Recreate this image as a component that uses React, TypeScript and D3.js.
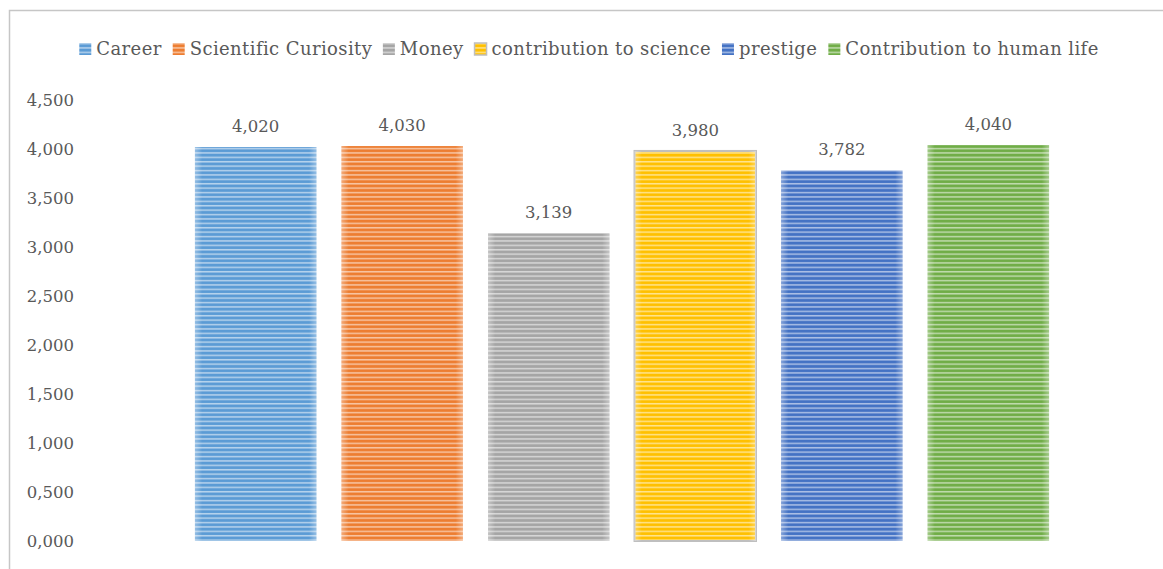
import * as d3 from "d3";

const series = [
  "Career",
  "Scientific Curiosity",
  "Money",
  "contribution to science",
  "prestige",
  "Contribution to human life",
];
const values = [4.02, 4.03, 3.139, 3.98, 3.782, 4.04];
const colors = ["#5B9BD5", "#ED7D31", "#A5A5A5", "#FFC000", "#4472C4", "#70AD47"];
const yTickValues = [0, 0.5, 1, 1.5, 2, 2.5, 3, 3.5, 4, 4.5];

const width = 1163;
const height = 569;
const plot = { left: 84, right: 1160, top: 100, bottom: 541 };
const font = "'DejaVu Serif', serif";
const fontSize = 16.5;
const legendSize = 18;
const legendSpacing = 0.4;
const textColor = "#595959";

const locale = d3.formatLocale({
  decimal: ",",
  thousands: ".",
  grouping: [3],
  currency: ["", ""],
});
const fmt = locale.format(".3f");

const measure = (() => {
  const ctx = document.createElement("canvas").getContext("2d");
  return (s: string, size: number) => {
    if (!ctx) return s.length * size * 0.55;
    ctx.font = `${size}px ${font}`;
    return ctx.measureText(s).width;
  };
})();

export default function App() {
  const x = d3
    .scaleBand<string>()
    .domain(series)
    .range([plot.left, plot.right])
    .paddingInner(0.171)
    .paddingOuter(0.757);
  const y = d3.scaleLinear().domain([0, 4.5]).range([plot.bottom, plot.top]);

  // legend layout
  const marker = 12;
  const markerGap = 5;
  const itemGap = 11;
  const widths = series.map(
    (s) => marker + markerGap + measure(s, legendSize) + s.length * legendSpacing
  );
  const total = d3.sum(widths) + itemGap * (series.length - 1);
  let cursor = 589 - total / 2;
  const legendItems = series.map((s, i) => {
    const item = { name: s, x: cursor, color: colors[i], i };
    cursor += widths[i] + itemGap;
    return item;
  });
  const legendY = 49;

  return (
    <>
      <style>{`body{margin:0;overflow:hidden}`}</style>
      <svg width={width} height={height} style={{ display: "block" }}>
        <defs>
          {colors.map((c, i) => (
            <pattern
              key={i}
              id={`stripe${i}`}
              patternUnits="userSpaceOnUse"
              width={8}
              height={4.4}
            >
              <rect width={8} height={4.4} fill={c} />
              <rect y={2.6} width={8} height={1.5} fill="#fff" opacity={0.55} />
            </pattern>
          ))}
          <linearGradient id="edge" x1="0" x2="1" y1="0" y2="0">
            <stop offset="0" stopColor="#fff" stopOpacity={0.35} />
            <stop offset="0.06" stopColor="#fff" stopOpacity={0} />
            <stop offset="0.94" stopColor="#fff" stopOpacity={0} />
            <stop offset="1" stopColor="#fff" stopOpacity={0.35} />
          </linearGradient>
        </defs>

        <rect x={0} y={0} width={width} height={height} fill="#fff" />
        <rect
          x={9.5}
          y={10.5}
          width={width + 20}
          height={height + 20}
          fill="none"
          stroke="#c6c6c6"
          strokeWidth={1.5}
        />

        {/* legend */}
        {legendItems.map((d) => (
          <g key={d.name} transform={`translate(${d.x},${legendY})`}>
            <rect
              x={0}
              y={-marker / 2}
              width={marker}
              height={marker}
              fill={`url(#stripe${d.i})`}
              stroke={d.i === 3 ? "#bfbfbf" : "none"}
              strokeWidth={1.5}
            />
            <text
              x={marker + markerGap}
              y={0}
              dy="0.36em"
              fontFamily={font}
              fontSize={legendSize}
              letterSpacing={legendSpacing}
              fill={textColor}
            >
              {d.name}
            </text>
          </g>
        ))}

        {/* y axis labels */}
        {yTickValues.map((t) => (
          <text
            key={t}
            x={74}
            y={y(t)}
            dy="0.36em"
            textAnchor="end"
            fontFamily={font}
            fontSize={fontSize}
            fill={textColor}
          >
            {fmt(t)}
          </text>
        ))}

        {/* bars */}
        {series.map((s, i) => {
          const bx = x(s) as number;
          const by = y(values[i]);
          const bh = y(0) - by;
          return (
            <g key={s}>
              <rect
                x={bx}
                y={by}
                width={x.bandwidth()}
                height={bh}
                fill={`url(#stripe${i})`}
                stroke={i === 3 ? "#bfbfbf" : "none"}
                strokeWidth={2}
              />
              <rect x={bx} y={by} width={x.bandwidth()} height={bh} fill="url(#edge)" />
              <text
                x={bx + x.bandwidth() / 2}
                y={by - 15}
                textAnchor="middle"
                fontFamily={font}
                fontSize={fontSize}
                fill={textColor}
              >
                {fmt(values[i])}
              </text>
            </g>
          );
        })}
      </svg>
    </>
  );
}
